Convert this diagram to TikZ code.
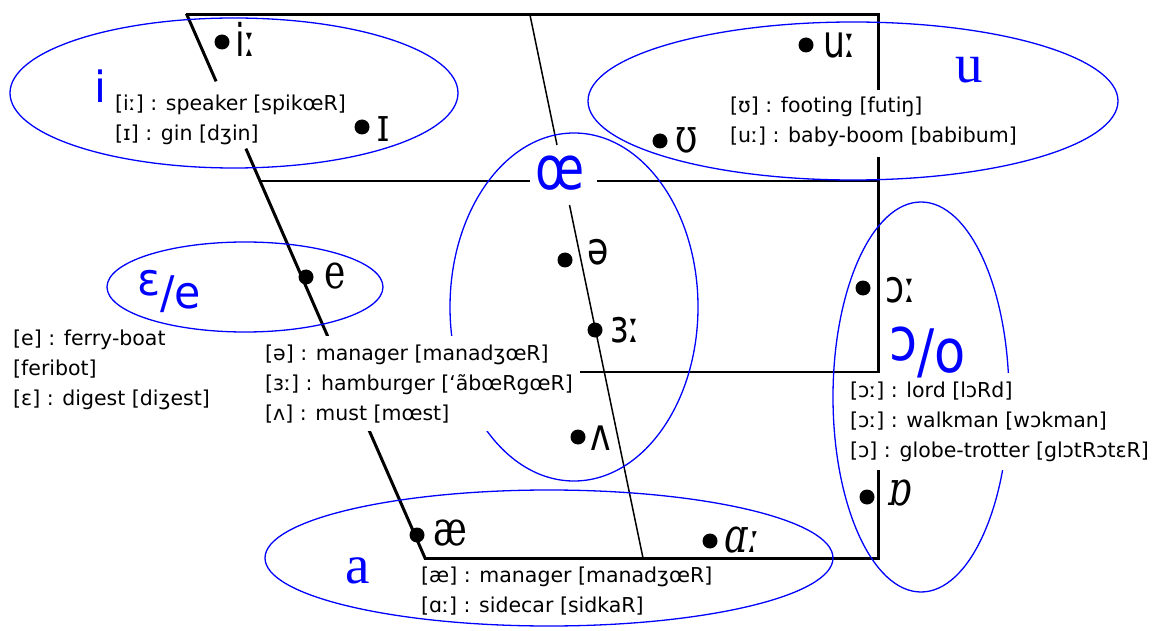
\documentclass[tikz,border=0pt]{standalone}
\usepackage{fontspec}
\usepackage{graphicx}
\setmainfont{DejaVu Sans}
\newfontfamily\ipasans{DejaVu Sans}
\newfontfamily\ipaserif{DejaVu Serif}
\newfontfamily\ipaslant[FakeSlant=0.22]{DejaVu Serif}
\newfontfamily\blueserif{Liberation Serif}
\definecolor{vblue}{RGB}{0,0,255}
\newcommand{\ipaS}[1]{{\ipasans\fontsize{45}{45}\selectfont\scalebox{0.77}[1]{#1}}}
\newcommand{\ipaR}[1]{{\ipaserif\fontsize{48}{48}\selectfont\scalebox{0.75}[1]{#1}}}
\newcommand{\ipaI}[1]{{\ipaslant\fontsize{48}{48}\selectfont\scalebox{0.75}[1]{#1}}}
\tikzset{
  frame/.style={line width=3pt, line cap=rect},
  gridline/.style={line width=1.5pt},
  region/.style={draw=vblue, line width=1.3pt},
  lab/.style={anchor=base west, inner sep=0pt, outer sep=0pt},
  bluelab/.style={lab, text=vblue},
  vdot/.style={circle, fill=black, draw=none, inner sep=0pt, minimum size=15pt},
  blk/.style={anchor=north west, align=left, inner xsep=3pt, inner ysep=8.5pt,
              font=\fontsize{20.5}{30}\selectfont},
  cover/.style={fill=white},
}
\begin{document}
\begin{tikzpicture}[x=1pt,y=-1pt]
\useasboundingbox (0,0) rectangle (1173,631);
% chart corners
\coordinate (TL) at (187,15);
\coordinate (TR) at (878,15);
\coordinate (BL) at (425,558);
\coordinate (BR) at (878,558);
% front edge pieces
\coordinate (F1) at (215.5,80);
\coordinate (F2) at (246.5,150);
\coordinate (F3) at (328,337);
\coordinate (F4) at (368.5,429);
% right edge pieces
\coordinate (R1) at (878,89);
\coordinate (R2) at (878,159);
\coordinate (R3) at (878,373);
\coordinate (R4) at (878,470);
% central line
\coordinate (C0) at (530,15);
\coordinate (C1) at (557,145);
\coordinate (C2) at (569.5,205);
\coordinate (C3) at (643,558);
% horizontals
\coordinate (M0) at (260,181);
\coordinate (M1) at (530,181);
\coordinate (M2) at (597,181);
\coordinate (M3) at (878,181);
\coordinate (L0) at (580,372);
\coordinate (L1) at (878,372);

\draw[frame] (TL) -- (TR);
\draw[frame] (BL) -- (BR);
\draw[frame] (TR) -- (R1);
\draw[frame] (R2) -- (R3);
\draw[frame] (R4) -- (BR);
\draw[frame] (TL) -- (F1);
\draw[frame] (F2) -- (F3);
\draw[frame] (F4) -- (BL);
\draw[gridline] (C0) -- (C1);
\draw[gridline] (C2) -- (C3);
\draw[gridline] (M0) -- (M1);
\draw[gridline] (M2) -- (M3);
\draw[gridline] (L0) -- (L1);

% regions
\draw[region] (234,93) ellipse [x radius=224pt, y radius=75pt];
\draw[region] (853,101) ellipse [x radius=265pt, y radius=79pt];
\draw[region] (245,287) ellipse [x radius=138pt, y radius=45pt];
\draw[region] (574,307) ellipse [x radius=124pt, y radius=174pt];
\draw[region] (921,397) ellipse [x radius=88pt, y radius=195pt];
\draw[region] (549,558) ellipse [x radius=284pt, y radius=68pt];

% example text blocks
\node[blk] (ti) at (112,86) {[iː] : speaker [spikœR]\\{}[ɪ] : gin [dʒin]};
\node[blk] (tu) at (727,88) {[ʊ] : footing [futiŋ]\\{}[uː] : baby-boom [babibum]};
\node[blk] (te) at (10,321) {[e] : ferry-boat\\{}[feribot]\\{}[ɛ] : digest [diʒest]};
\node[blk, cover] (tc) at (262,336) {[ə] : manager [manadʒœR]\\{}[ɜː] : hamburger [‘ãbœRgœR]\\{}[ʌ] : must [mœst]};
\node[blk, cover] (to) at (847,373) {[ɔː] : lord [lɔRd]\\{}[ɔː] : walkman [wɔkman]\\{}[ɔ] : globe-trotter [glɔtRɔtɛR]};
\node[blk] (ta) at (418,558) {[æ] : manager [manadʒœR]\\{}[ɑː] : sidecar [sidkaR]};

% vowel points
\node[vdot] (d-ii) at (222,42) {};
\node[vdot] (d-I) at (362,127) {};
\node[vdot] (d-uu) at (806,45) {};
\node[vdot] (d-U) at (660,141) {};
\node[vdot] (d-e) at (306,277) {};
\node[vdot] (d-schwa) at (565,260) {};
\node[vdot] (d-er) at (595,330) {};
\node[vdot] (d-V) at (578,437) {};
\node[vdot] (d-ae) at (417,535) {};
\node[vdot] (d-aa) at (710,541) {};
\node[vdot] (d-oo) at (863,288) {};
\node[vdot] (d-Q) at (867,497) {};

% vowel symbols
\node[lab] (l-ii) at (235,57) {\ipaS{iː}};
\node[lab] (l-I) at (377,142) {\ipaR{ɪ}};
\node[lab] (l-uu) at (823,58) {\ipaS{uː}};
\node[lab] (l-U) at (675,153) {\ipaR{ʊ}};
\node[lab] (l-e) at (324,288) {\ipaR{e}};
\node[lab] (l-schwa) at (587,265) {\ipaS{ə}};
\node[lab] (l-er) at (610,342) {\ipaS{ɜː}};
\node[lab] (l-V) at (590,450) {\ipaS{ʌ}};
\node[lab] (l-ae) at (433,545) {\ipaR{æ}};
\node[lab] (l-aa) at (722,552) {\ipaI{ɑː}};
\node[lab] (l-oo) at (885,302) {\ipaS{ɔː}};
\node[lab] (l-Q) at (886,505) {\ipaI{ɒ}};

% region names
\node[bluelab] (n-i) at (94,103) {\fontsize{43}{43}\selectfont i};
\node[bluelab] (n-u) at (955,83) {\blueserif\fontsize{55}{55}\selectfont u};
\node[bluelab] (n-a) at (345,583) {\blueserif\fontsize{55}{55}\selectfont a};
\node[bluelab] (n-oe) at (535,190) {\fontsize{60}{60}\selectfont\scalebox{0.8}[1]{œ}};
\node[bluelab] (n-ee) at (137,308) {\fontsize{45}{45}\selectfont\scalebox{0.95}[1]{\raisebox{13pt}{ɛ}/e}};
\node[bluelab] (n-oo) at (889,372) {\fontsize{60}{60}\selectfont\scalebox{0.85}[1]{\raisebox{12pt}{ɔ}/o}};
\end{tikzpicture}
\end{document}
